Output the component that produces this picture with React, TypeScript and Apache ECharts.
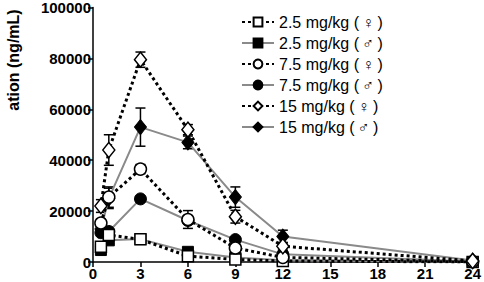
import React, { useEffect, useRef } from "react";
import * as echarts from "echarts";

const times = [0.5, 1, 3, 6, 9, 12, 24];
const xTicks = [0, 3, 6, 9, 12, 15, 18, 21, 24];
const yTicks = [0, 20000, 40000, 60000, 80000, 100000];

const f25 = [6000, 10600, 8900, 2300, 1000, 400, 0];
const m25 = [4700, 8500, 9000, 4000, 1800, 700, 0];
const f75 = [15300, 25500, 36500, 16700, 5500, 1800, 100];
const m75 = [11500, 12000, 24800, 16300, 8800, 3000, 200];
const f15 = [22000, 44000, 79500, 52000, 17800, 6200, 400];
const m15 = [13000, 25000, 53000, 47000, 25500, 10000, 600];

const f25Err = [800, 1000, 800, 500, 300, 200, 0];
const m25Err = [500, 800, 600, 500, 300, 200, 0];
const f75Err = [1500, 4000, 1800, 3500, 1000, 800, 0];
const m75Err = [1000, 1000, 800, 1500, 1000, 500, 0];
const f15Err = [2500, 6000, 3000, 2000, 2500, 1500, 0];
const m15Err = [2000, 4000, 7500, 2500, 4000, 2500, 0];

const names = [
  "2.5 mg/kg (\u2009♀\u2009)",
  "2.5 mg/kg (\u2009♂\u2009)",
  "7.5 mg/kg (\u2009♀\u2009)",
  "7.5 mg/kg (\u2009♂\u2009)",
  "15 mg/kg (\u2009♀\u2009)",
  "15 mg/kg (\u2009♂\u2009)",
];

const FONT = "'Liberation Sans', Arial, sans-serif";

export default function App() {
  const ref = useRef<HTMLDivElement>(null);
  useEffect(() => {
    document.body.style.margin = "0";
    const chart = echarts.init(ref.current!, undefined, { renderer: "svg" });

    const groups = [
      { name: names[0], vals: f25, err: f25Err, female: true, symbol: "rect", size: 11 },
      { name: names[1], vals: m25, err: m25Err, female: false, symbol: "rect", size: 11 },
      { name: names[2], vals: f75, err: f75Err, female: true, symbol: "circle", size: 12 },
      { name: names[3], vals: m75, err: m75Err, female: false, symbol: "circle", size: 12 },
      { name: names[4], vals: f15, err: f15Err, female: true, symbol: "diamond", size: [12, 15] },
      { name: names[5], vals: m15, err: m15Err, female: false, symbol: "diamond", size: [12, 15] },
    ];

    const errData: number[][] = [];
    groups.forEach((g) => {
      g.vals.forEach((v, i) => {
        if (g.err[i] > 0) errData.push([times[i], v - g.err[i], v + g.err[i]]);
      });
    });

    const lineSeries = groups.map((g) => ({
      name: g.name,
      type: "line",
      data: times.map((t, i) => [t, g.vals[i]]),
      symbol: g.symbol,
      symbolSize: g.size,
      z: g.female ? 4 : 3,
      lineStyle: g.female
        ? { color: "#000", width: 3, type: [3, 3] }
        : { color: "#8a8a8a", width: 2, type: "solid" },
      itemStyle: g.female
        ? { color: "#fff", borderColor: "#000", borderWidth: 1.5 }
        : { color: "#000", borderColor: "#000", borderWidth: 1 },
    }));

    const errSeries = {
      type: "custom",
      z: 2,
      silent: true,
      data: errData,
      encode: { x: 0, y: [1, 2] },
      renderItem: (params: any, api: any) => {
        const x = api.value(0);
        const lo = api.coord([x, api.value(1)]);
        const hi = api.coord([x, api.value(2)]);
        const hw = 5;
        const style = { stroke: "#000", lineWidth: 1.5 };
        return {
          type: "group",
          children: [
            { type: "line", shape: { x1: lo[0], y1: lo[1], x2: hi[0], y2: hi[1] }, style },
            { type: "line", shape: { x1: lo[0] - hw, y1: lo[1], x2: lo[0] + hw, y2: lo[1] }, style },
            { type: "line", shape: { x1: hi[0] - hw, y1: hi[1], x2: hi[0] + hw, y2: hi[1] }, style },
          ],
        };
      },
    };

    chart.setOption({
      animation: false,
      grid: { left: 93, right: 11, top: 7, bottom: 20 },
      legend: {
        data: names,
        orient: "vertical",
        left: 236,
        top: 9,
        itemWidth: 32,
        itemHeight: 11,
        itemGap: 5,
        textStyle: { fontFamily: FONT, fontSize: 16, color: "#000" },
      },
      graphic: [
        {
          type: "text",
          x: 13,
          y: 60,
          rotation: Math.PI / 2,
          style: {
            text: "ation (ng/mL)",
            font: `bold 16px ${FONT}`,
            fill: "#000",
            align: "center",
            verticalAlign: "middle",
          },
        },
      ],
      xAxis: {
        type: "value",
        min: xTicks[0],
        max: xTicks[xTicks.length - 1],
        interval: 3,
        splitLine: { show: false },
        axisLine: { lineStyle: { color: "#000", width: 1.5 } },
        axisTick: { length: 5, lineStyle: { color: "#000", width: 1.5 } },
        axisLabel: { color: "#000", fontFamily: FONT, fontWeight: "bold", fontSize: 15, margin: 4 },
      },
      yAxis: {
        type: "value",
        min: yTicks[0],
        max: yTicks[yTicks.length - 1],
        interval: 20000,
        splitLine: { show: false },
        axisLine: { show: true, lineStyle: { color: "#000", width: 1.5 } },
        axisTick: { show: true, length: 5, lineStyle: { color: "#000", width: 1.5 } },
        axisLabel: {
          color: "#000",
          fontFamily: FONT,
          fontWeight: "bold",
          fontSize: 15,
          margin: 2,
          formatter: (v: number) => String(v),
        },
      },
      series: [errSeries, ...lineSeries],
    });
    return () => chart.dispose();
  }, []);
  return <div ref={ref} style={{ width: 484, height: 282 }} />;
}
